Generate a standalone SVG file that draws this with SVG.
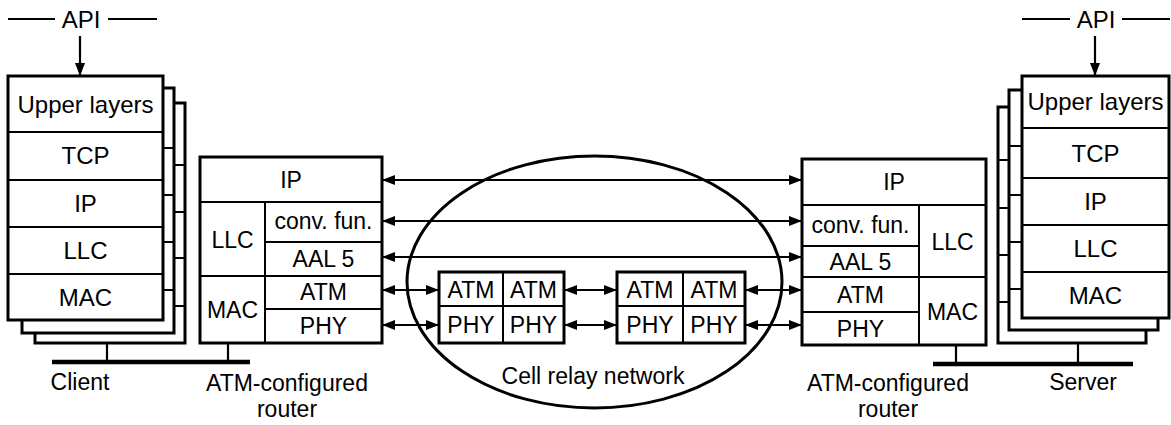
<svg xmlns="http://www.w3.org/2000/svg" width="1171" height="425" viewBox="0 0 1171 425">
<style>
.box{fill:#fff;stroke:#000;stroke-width:3}
.dv{stroke:#000;stroke-width:2;fill:none}
.ln{stroke:#000;stroke-width:2.2;fill:none}
.bus{stroke:#000;stroke-width:4.5;fill:none}
text{font-family:"Liberation Sans",Arial,sans-serif;font-size:23px;text-anchor:middle;fill:#000}
.big{font-size:24px}
.lbl{font-size:23px}
</style>
<defs>
<marker id="ah" viewBox="0 0 13 10" refX="13" refY="5" markerWidth="13" markerHeight="10" markerUnits="userSpaceOnUse" orient="auto-start-reverse">
<path d="M0,0 L13,5 L0,10 z" fill="#000"/>
</marker>
</defs>
<rect width="1171" height="425" fill="#fff"/>

<g id="client">
<rect class="box" x="35" y="103" width="150" height="240"/>
<path class="dv" d="M35,165H185M35,212H185M35,258H185M35,306H185"/>
<rect class="box" x="22" y="88" width="152" height="245"/>
<path class="dv" d="M22,148H174M22,195H174M22,242H174M22,290H174"/>
<rect class="box" x="8" y="76" width="155" height="244"/>
<path class="dv" d="M8,132H163M8,180H163M8,227H163M8,274H163"/>
<text class="big" x="85.5" y="113">Upper layers</text>
<text class="big" x="85.5" y="164">TCP</text>
<text class="big" x="85.5" y="212">IP</text>
<text class="big" x="85.5" y="259">LLC</text>
<text class="big" x="85.5" y="306">MAC</text>
<path class="ln" d="M107,343V362M228,343V362"/>
<path class="bus" d="M52,362H250"/>
<text class="lbl" x="80" y="390">Client</text>
</g>

<g id="api-left">
<path class="ln" d="M8,19H55M108,19H157"/>
<text class="big" x="81" y="28">API</text>
<path class="ln" d="M80,36V76" marker-end="url(#ah)"/>
</g>

<g id="router-left">
<rect class="box" x="200" y="157" width="182" height="186"/>
<path class="dv" d="M200,202H382M265,202V343M200,276H382M265,242H382M265,309H382"/>
<text x="291" y="188">IP</text>
<text x="232.5" y="248">LLC</text>
<text x="232.5" y="318">MAC</text>
<text x="323.5" y="229">conv. fun.</text>
<text x="323.5" y="267">AAL 5</text>
<text x="323.5" y="300">ATM</text>
<text x="323.5" y="334">PHY</text>
<text class="lbl" x="287" y="391">ATM-configured</text>
<text class="lbl" x="287" y="417">router</text>
</g>

<g id="cell-relay-network">
<ellipse cx="594.5" cy="282" rx="187.5" ry="126" fill="none" stroke="#000" stroke-width="3"/>
<text class="lbl" x="593" y="384">Cell relay network</text>
</g>

<g id="switch-1">
<rect class="box" x="439" y="272" width="125" height="71" stroke-width="2.5"/>
<path class="dv" d="M439,306H564M503,272V343"/>
<text x="471" y="298">ATM</text>
<text x="533.5" y="298">ATM</text>
<text x="471" y="333">PHY</text>
<text x="533.5" y="333">PHY</text>
</g>

<g id="switch-2">
<rect class="box" x="617" y="272" width="128" height="71" stroke-width="2.5"/>
<path class="dv" d="M617,306H745M683,272V343"/>
<text x="650" y="298">ATM</text>
<text x="714" y="298">ATM</text>
<text x="650" y="333">PHY</text>
<text x="714" y="333">PHY</text>
</g>

<g id="router-right">
<rect class="box" x="802" y="159" width="184" height="186"/>
<path class="dv" d="M802,205H986M919,205V345M802,277H986M802,246H919M802,312H919"/>
<text x="894" y="190">IP</text>
<text x="860.5" y="233">conv. fun.</text>
<text x="860.5" y="270">AAL 5</text>
<text x="860.5" y="303">ATM</text>
<text x="860.5" y="337">PHY</text>
<text x="952.5" y="250">LLC</text>
<text x="952.5" y="320">MAC</text>
<text class="lbl" x="888" y="391">ATM-configured</text>
<text class="lbl" x="888" y="417">router</text>
</g>

<g id="server">
<rect class="box" x="998" y="107" width="148" height="236"/>
<path class="dv" d="M998,160H1146M998,208H1146M998,255H1146M998,302H1146"/>
<rect class="box" x="1009" y="90" width="149" height="240"/>
<path class="dv" d="M1009,146H1158M1009,195H1158M1009,242H1158M1009,289H1158"/>
<rect class="box" x="1022" y="76" width="147" height="242"/>
<path class="dv" d="M1022,128H1169M1022,178H1169M1022,225H1169M1022,272H1169"/>
<text class="big" x="1095.5" y="110">Upper layers</text>
<text class="big" x="1095.5" y="162">TCP</text>
<text class="big" x="1095.5" y="210">IP</text>
<text class="big" x="1095.5" y="257">LLC</text>
<text class="big" x="1095.5" y="304">MAC</text>
<path class="ln" d="M956,345V364M1078,343V364"/>
<path class="bus" d="M933,364H1133"/>
<text class="lbl" x="1083" y="390">Server</text>
</g>

<g id="api-right">
<path class="ln" d="M1022,19H1070M1122,19H1170"/>
<text class="big" x="1096" y="28">API</text>
<path class="ln" d="M1095,36V76" marker-end="url(#ah)"/>
</g>

<g id="connectors">
<path class="ln" d="M382,180H802" marker-start="url(#ah)" marker-end="url(#ah)"/>
<path class="ln" d="M382,221H802" marker-start="url(#ah)" marker-end="url(#ah)"/>
<path class="ln" d="M382,257H802" marker-start="url(#ah)" marker-end="url(#ah)"/>
<path class="ln" d="M382,290H439" marker-start="url(#ah)" marker-end="url(#ah)"/>
<path class="ln" d="M564,290H617" marker-start="url(#ah)" marker-end="url(#ah)"/>
<path class="ln" d="M745,290H802" marker-start="url(#ah)" marker-end="url(#ah)"/>
<path class="ln" d="M382,325H439" marker-start="url(#ah)" marker-end="url(#ah)"/>
<path class="ln" d="M564,325H617" marker-start="url(#ah)" marker-end="url(#ah)"/>
<path class="ln" d="M745,325H802" marker-start="url(#ah)" marker-end="url(#ah)"/>
</g>
</svg>
